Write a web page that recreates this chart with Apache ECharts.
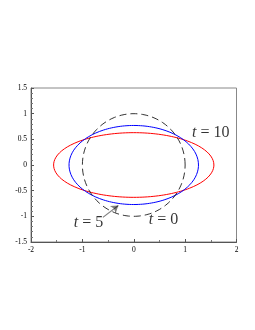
<!DOCTYPE html>
<html><head><meta charset="utf-8">
<script src="https://cdn.jsdelivr.net/npm/echarts@6/dist/echarts.min.js"></script>
<style>html,body{margin:0;padding:0;background:#fff}#c{width:255px;height:330px}</style>
</head><body><div id="c"></div>
<script>
// Shapes: semi-axes (a along x, b along y)
var curveNames = ['t = 0', 't = 5', 't = 10'];
var semiA = [1.0, 1.26, 1.56];
var semiB = [1.0, 0.77, 0.63];
var curveColors = ['#000000', '#0000ff', '#ff0000'];
var curveDash = ['dashed', 'solid', 'solid'];
var xTicks = [-2, -1, 0, 1, 2];
var yTicks = [-1.5, -1, -0.5, 0, 0.5, 1, 1.5];
// annotation label centres (data coords) and arrow
var labelText = ['t = 0', 't = 5', 't = 10'];
var labelPos = [[0.58, -1.07], [-0.88, -1.13], [1.5, 0.63]];
var arrowFrom = [-0.6, -1.02];
var arrowTo = [-0.3, -0.79];

function ellipse(a, b) {
  var pts = [];
  var n = 180;
  for (var i = 0; i <= n; i++) {
    var th = 2 * Math.PI * i / n;
    pts.push([a * Math.cos(th), b * Math.sin(th)]);
  }
  return pts;
}

var SERIF = 'serif';
var series = [];
for (var k = 0; k < semiA.length; k++) {
  series.push({
    type: 'line', name: curveNames[k], data: ellipse(semiA[k], semiB[k]),
    showSymbol: false, smooth: false, silent: true,
    lineStyle: { color: curveColors[k], width: k === 0 ? 0.8 : 1, type: curveDash[k] === 'dashed' ? [7, 4] : 'solid' },
    z: 3 - k
  });
}
series.push({
  type: 'scatter', data: labelPos.map(function (p, i) { return { value: p, name: labelText[i] }; }),
  symbolSize: 0, silent: true,
  label: {
    show: true, position: 'inside',
    fontFamily: SERIF, fontSize: 16, color: '#000',
    formatter: function (p) {
      var s = p.name.split(' = ');
      return '{i|' + s[0] + '} = ' + s[1];
    },
    rich: {
      i: { fontFamily: SERIF, fontStyle: 'italic', fontSize: 16, color: '#000' }
    }
  }
});
series.push({
  type: 'lines', coordinateSystem: 'cartesian2d', silent: true,
  symbol: ['none', 'arrow'], symbolSize: 7,
  lineStyle: { color: '#000', width: 1.2 },
  data: [{ coords: [arrowFrom, arrowTo] }]
});

var labelStyle = { fontFamily: SERIF, fontSize: 7.5, color: '#000' };
var chart = echarts.init(document.getElementById('c'), null, { renderer: 'canvas' });
chart.setOption({
  animation: false,
  backgroundColor: '#fff',
  textStyle: { fontFamily: SERIF },
  grid: { left: 31, right: 18.5, top: 88, bottom: 88, show: true, borderColor: '#888', borderWidth: 1 },
  xAxis: {
    type: 'value', min: -2, max: 2, interval: 1,
    axisLine: { onZero: false, lineStyle: { color: '#555', width: 1 } },
    axisTick: { show: true, inside: true, length: 3, lineStyle: { color: '#555' } },
    minorTick: { show: true, splitNumber: 2, length: 2, lineStyle: { color: '#777' } },
    splitLine: { show: false },
    axisLabel: Object.assign({ margin: 4, formatter: function (v) { return xTicks.indexOf(v) >= 0 ? String(v) : ''; } }, labelStyle)
  },
  yAxis: {
    type: 'value', min: -1.5, max: 1.5, interval: 0.5,
    axisLine: { onZero: false, lineStyle: { color: '#555', width: 1 } },
    axisTick: { show: true, inside: true, length: 3, lineStyle: { color: '#555' } },
    minorTick: { show: true, splitNumber: 5, length: 2, lineStyle: { color: '#777' } },
    splitLine: { show: false },
    axisLabel: Object.assign({ margin: 4, formatter: function (v) { return yTicks.indexOf(v) >= 0 ? String(v) : ''; } }, labelStyle)
  },
  series: series
});
</script></body></html>
